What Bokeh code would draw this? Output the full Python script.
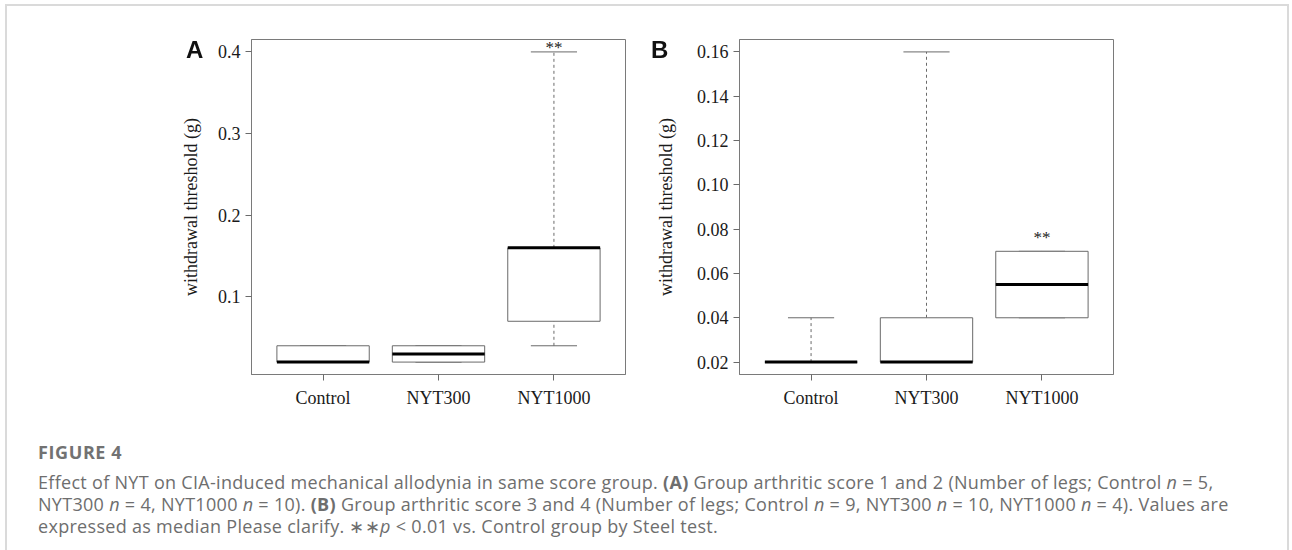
from bokeh.plotting import figure
from bokeh.models import Range1d, FixedTicker, Div, ColumnDataSource, PrintfTickFormatter
from bokeh.layouts import column, row
from bokeh.embed import file_html
from bokeh.resources import INLINE
from bokeh.core.properties import value

# ---- data ----
groups = ["Control", "NYT300", "NYT1000"]

a_low = [0.02, 0.02, 0.04]
a_q1 = [0.02, 0.02, 0.07]
a_med = [0.02, 0.03, 0.16]
a_q3 = [0.04, 0.04, 0.16]
a_high = [0.04, 0.04, 0.40]
a_sig = ["", "", "**"]
a_ticks = [0.1, 0.2, 0.3, 0.4]

b_low = [0.02, 0.02, 0.04]
b_q1 = [0.02, 0.02, 0.04]
b_med = [0.02, 0.02, 0.055]
b_q3 = [0.02, 0.04, 0.07]
b_high = [0.04, 0.16, 0.07]
b_sig = ["", "", "**"]
b_ticks = [0.02, 0.04, 0.06, 0.08, 0.10, 0.12, 0.14, 0.16]

SERIF = "Liberation Serif"
LINE = "#6a6a6a"
FRAME = "#7a7a7a"


def panel(low, q1, med, q3, high, sig, sig_anchor, sig_offset, ticks, fmt,
          width, bl, br, label_standoff):
    xs = list(range(1, len(groups) + 1))
    lo = min(low)
    hi = max(high)
    pad = 0.04 * (hi - lo)
    xpad = 0.04 * len(groups)
    p = figure(width=width, height=417, output_backend="svg", toolbar_location=None,
               x_range=Range1d(0.5 - xpad, len(groups) + 0.5 + xpad),
               y_range=Range1d(lo - pad, hi + pad),
               min_border_left=bl, min_border_right=br, min_border_top=39, min_border_bottom=43)
    p.xgrid.visible = False
    p.ygrid.visible = False
    p.outline_line_color = FRAME
    p.outline_line_width = 1
    p.background_fill_color = "white"
    p.border_fill_color = "white"

    src = ColumnDataSource(dict(
        x=xs, l=[x - 0.4 for x in xs], r=[x + 0.4 for x in xs],
        cl=[x - 0.2 for x in xs], cr=[x + 0.2 for x in xs],
        low=low, q1=q1, med=med, q3=q3, high=high, sig=sig, anchor=sig_anchor))

    p.segment(x0="x", y0="q3", x1="x", y1="high", source=src, line_color=LINE,
              line_width=1, line_dash="3 3")
    p.segment(x0="x", y0="low", x1="x", y1="q1", source=src, line_color=LINE,
              line_width=1, line_dash="3 3")
    p.segment(x0="cl", y0="high", x1="cr", y1="high", source=src, line_color=LINE, line_width=1)
    p.segment(x0="cl", y0="low", x1="cr", y1="low", source=src, line_color=LINE, line_width=1)
    p.quad(left="l", right="r", bottom="q1", top="q3", source=src, fill_color="white",
           line_color=LINE, line_width=1)
    p.segment(x0="l", y0="med", x1="r", y1="med", source=src, line_color="black", line_width=3)
    p.text(x="x", y="anchor", text="sig", source=src, text_font=value(SERIF),
           text_font_size="17px", text_align="center", text_baseline="alphabetic",
           y_offset=sig_offset, text_color="#222222")

    for ax in (p.xaxis[0], p.yaxis[0]):
        ax.axis_line_color = FRAME
        ax.major_tick_line_color = LINE
        ax.major_tick_out = 6
        ax.major_tick_in = 0
        ax.minor_tick_line_color = None
        ax.major_label_text_font = SERIF
        ax.major_label_text_font_size = "18px"
        ax.major_label_text_color = "#1a1a1a"

    p.xaxis.ticker = FixedTicker(ticks=xs)
    p.xaxis.major_label_overrides = {x: g for x, g in zip(xs, groups)}
    p.xaxis.major_label_standoff = 7

    p.yaxis.ticker = FixedTicker(ticks=ticks)
    p.yaxis.formatter = PrintfTickFormatter(format=fmt)
    p.yaxis.major_label_standoff = 5
    p.yaxis.axis_label = "withdrawal threshold (g)"
    p.yaxis.axis_label_text_font = SERIF
    p.yaxis.axis_label_text_font_size = "18px"
    p.yaxis.axis_label_text_font_style = "normal"
    p.yaxis.axis_label_text_color = "#1a1a1a"
    p.yaxis.axis_label_standoff = label_standoff
    return p


pA = panel(a_low, a_q1, a_med, a_q3, a_high, a_sig, a_high, -4, a_ticks, "%.1f",
           645, 251, 20, 14)
pB = panel(b_low, b_q1, b_med, b_q3, b_high, b_sig, b_q3, -14, b_ticks, "%.2f",
           639, 94, 171, 18)

letter_css = ("position:fixed;font-family:'Liberation Sans';font-weight:bold;font-size:24px;"
              "line-height:24px;color:#111;")
caption_html = f"""
<div style="position:fixed;left:5px;top:4px;width:1284px;height:600px;border:2px solid #dadada;border-bottom:none;box-sizing:border-box;pointer-events:none;"></div>
<div style="{letter_css}left:186px;top:38px;">A</div>
<div style="{letter_css}left:651px;top:38px;">B</div>
<div style="font-family:'Open Sans';color:#6e6e6e;padding-left:33px;padding-top:19px;white-space:nowrap;">
<div style="font-size:18px;font-weight:bold;line-height:22px;margin-bottom:8px;color:#727272;letter-spacing:0.6px;">FIGURE 4</div>
<div style="font-size:18px;line-height:22px;letter-spacing:0.3px;">
Effect of NYT on CIA-induced mechanical allodynia in same score group. <b>(A)</b> Group arthritic score 1 and 2 (Number of legs; Control <i>n</i> = 5,<br>
NYT300 <i>n</i> = 4, NYT1000 <i>n</i> = 10). <b>(B)</b> Group arthritic score 3 and 4 (Number of legs; Control <i>n</i> = 9, NYT300 <i>n</i> = 10, NYT1000 <i>n</i> = 4). Values are<br>
expressed as median Please clarify. &lowast;&lowast;<i>p</i> &lt; 0.01 vs. Control group by Steel test.
</div></div>
"""
cap = Div(text=caption_html, width=1284, height=118)

layout = column(row(pA, pB), cap)
open("out.html", "w").write(file_html(layout, INLINE))
